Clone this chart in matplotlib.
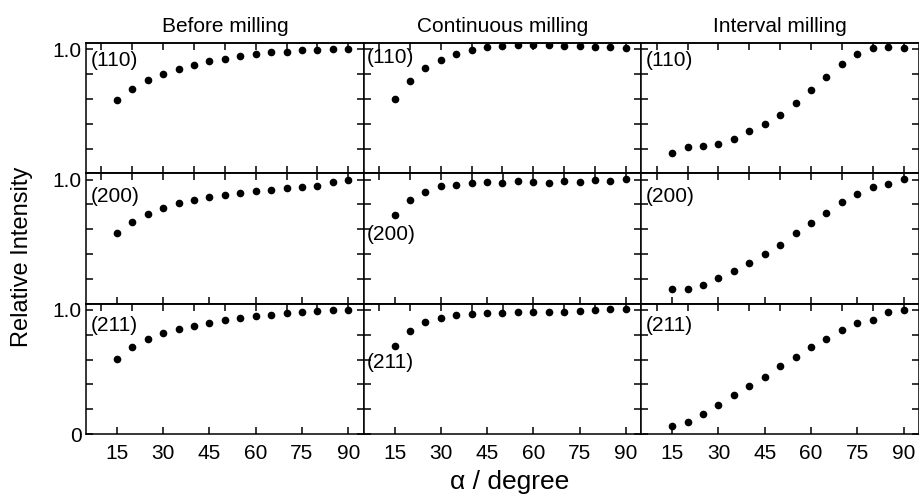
import numpy as np
import matplotlib.pyplot as plt

plt.rcParams['font.family'] = ['Liberation Sans', 'DejaVu Sans']

alpha = [15, 20, 25, 30, 35, 40, 45, 50, 55, 60, 65, 70, 75, 80, 85, 90]
columns = ['Before milling', 'Continuous milling', 'Interval milling']
planes = ['(110)', '(200)', '(211)']

# (110)
before_110 = [0.59, 0.68, 0.75, 0.80, 0.84, 0.875, 0.905, 0.92, 0.945, 0.96, 0.975, 0.98, 0.99, 0.995, 1.0, 1.0]
cont_110 = [0.60, 0.745, 0.85, 0.915, 0.96, 0.99, 1.015, 1.025, 1.033, 1.036, 1.033, 1.028, 1.025, 1.02, 1.02, 1.012]
inter_110 = [0.167, 0.21, 0.224, 0.24, 0.28, 0.34, 0.40, 0.47, 0.568, 0.67, 0.778, 0.88, 0.96, 1.007, 1.02, 1.01]
# (200)
before_200 = [0.571, 0.66, 0.724, 0.773, 0.81, 0.837, 0.859, 0.878, 0.891, 0.905, 0.915, 0.929, 0.937, 0.948, 0.98, 1.0]
cont_200 = [0.713, 0.834, 0.899, 0.951, 0.959, 0.972, 0.98, 0.969, 0.985, 0.98, 0.972, 0.985, 0.977, 0.999, 0.988, 1.004]
inter_200 = [0.116, 0.121, 0.153, 0.207, 0.267, 0.326, 0.401, 0.474, 0.568, 0.649, 0.732, 0.819, 0.88, 0.937, 0.961, 1.004]
# (211)
before_211 = [0.608, 0.697, 0.764, 0.81, 0.845, 0.869, 0.897, 0.915, 0.931, 0.95, 0.961, 0.974, 0.98, 0.988, 0.996, 1.0]
cont_211 = [0.711, 0.826, 0.901, 0.937, 0.955, 0.969, 0.974, 0.974, 0.982, 0.985, 0.982, 0.98, 0.99, 0.996, 1.004, 1.004]
inter_211 = [0.067, 0.094, 0.164, 0.237, 0.312, 0.39, 0.463, 0.549, 0.624, 0.703, 0.762, 0.837, 0.891, 0.918, 0.98, 1.0]

data = [[before_110, cont_110, inter_110],
        [before_200, cont_200, inter_200],
        [before_211, cont_211, inter_211]]

# label positions (x, y) in data coords for each panel
label_pos = [[(6.5, 0.905), (6.0, 0.93), (6.5, 0.905)],
             [(6.5, 0.864), (6.0, 0.557), (6.5, 0.86)],
             [(6.5, 0.875), (6.0, 0.576), (6.5, 0.875)]]

fig, axes = plt.subplots(3, 3, figsize=(9.2, 4.96), dpi=100)
fig.subplots_adjust(left=86/920, right=919/920, top=1-43/496, bottom=1-434/496,
                    wspace=0, hspace=0)

lw = 1.1
for i in range(3):
    for j in range(3):
        ax = axes[i, j]
        ax.plot(alpha, data[i][j], 'o', color='black', markersize=4.5)
        ax.set_xlim(5, 95)
        ax.set_ylim(0, 1.05)
        for s in ax.spines.values():
            s.set_linewidth(lw)

        # y ticks
        ax.set_yticks([0, 0.2, 0.4, 0.6, 0.8, 1.0])
        if j == 0:
            if i == 2:
                ax.set_yticklabels(['0', '', '', '', '', '1.0'])
            else:
                ax.set_yticklabels(['', '', '', '', '', '1.0'])
        else:
            ax.set_yticklabels([])
        ax.tick_params(axis='y', direction='in', left=True, right=True,
                       length=5, width=lw, labelsize=15, pad=3)

        # bottom ticks
        if i == 0:
            ax.set_xticks(range(10, 91, 10))
        else:
            ax.set_xticks(range(15, 91, 15))
        ax.tick_params(axis='x', direction='in', length=5, width=lw,
                       labelsize=15, pad=7, labelbottom=(i == 2))

        # top ticks
        sec = ax.secondary_xaxis('top')
        sec.set_xticks(range(10, 91, 10))
        sec.tick_params(direction='in', length=5, width=lw, labeltop=False)
        sec.spines['top'].set_linewidth(lw)

        x0, y0 = label_pos[i][j]
        ax.text(x0, y0, planes[i], fontsize=15, ha='left', va='center')

        if i == 0:
            ax.set_title(columns[j], fontsize=15, pad=8)

fig.text(510/920, 1-489/496, 'α / degree', fontsize=19, ha='center', va='baseline')
fig.text(22/920, 1-257/496, 'Relative Intensity', fontsize=17, rotation=90,
         ha='center', va='center')

fig.savefig('out.png', dpi=100)
